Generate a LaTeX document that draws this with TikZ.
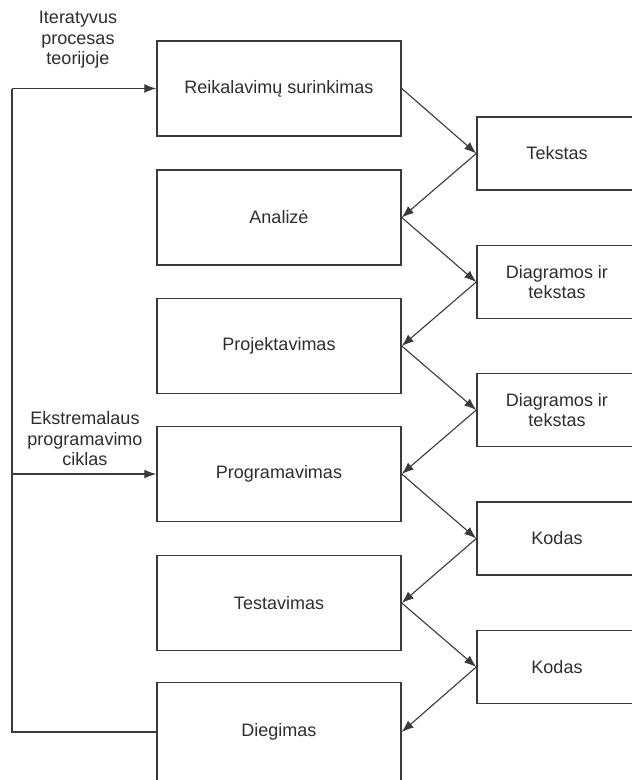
\documentclass[tikz,border=0pt]{standalone}
\usepackage{fontspec}
\setmainfont{Liberation Sans}
\usetikzlibrary{arrows.meta}
\definecolor{ink}{HTML}{3A3A3A}
\definecolor{txt}{HTML}{2E2E2E}
\begin{document}
\begin{tikzpicture}[x=1pt,y=-1pt,
  stage/.style={draw=ink, line width=1.5pt, rectangle, minimum width=244pt,
    minimum height=95pt, inner sep=0pt, text=txt,
    font=\fontsize{18}{20}\selectfont},
  artefact/.style={draw=ink, line width=1.5pt, rectangle, minimum width=160pt,
    minimum height=73pt, inner sep=0pt, text=txt, align=center,
    font=\fontsize{18}{20.5}\selectfont},
  note/.style={text=txt, align=center, font=\fontsize{18}{20.5}\selectfont},
  flow/.style={draw=ink, line width=1.1pt, -{Latex[length=12pt,width=9pt]}}]
\useasboundingbox (0,0) rectangle (632,780);
\clip (0,0) rectangle (632,780);
\fill[white] (0,0) rectangle (632,780);

% development stages
\node[stage] (s1) at (279,88.5) {Reikalavimų surinkimas};
\node[stage] (s2) at (279,217.5) {Analizė};
\node[stage] (s3) at (279,346) {Projektavimas};
\node[stage] (s4) at (279,474) {Programavimas};
\node[stage] (s5) at (279,603) {Testavimas};
\node[stage, minimum height=99pt] (s6) at (279,732) {Diegimas};

% produced artefacts
\node[artefact] (a1) at (557,153.5) {Tekstas};
\node[artefact] (a2) at (557,282) {Diagramos ir\\tekstas};
\node[artefact] (a3) at (557,410) {Diagramos ir\\tekstas};
\node[artefact] (a4) at (557,538.5) {Kodas};
\node[artefact] (a5) at (557,667) {Kodas};

% loop labels
\node[note] (n1) at (78,40) {Iteratyvus\\procesas\\teorijoje};
\node[note] (n2) at (85,439) {Ekstremalaus\\programavimo\\ciklas};

% stage -> artefact -> next stage
\foreach \i/\j in {1/2,2/3,3/4,4/5,5/6}{
  \draw[flow] (s\i.east) -- (a\i.west);
  \draw[flow] (a\i.west) -- (s\j.east);
}

% feedback loop on the left
\coordinate (lb) at (12,732);
\coordinate (lt) at (12,88.5);
\coordinate (lm) at (12,474);
\draw[ink, line width=1.3pt] (s6.west) -- (lb) -- (lt);
\draw[flow, line width=1.3pt] (lt) -- (s1.west);
\draw[flow, line width=1.3pt] (lm) -- (s4.west);
\end{tikzpicture}
\end{document}
